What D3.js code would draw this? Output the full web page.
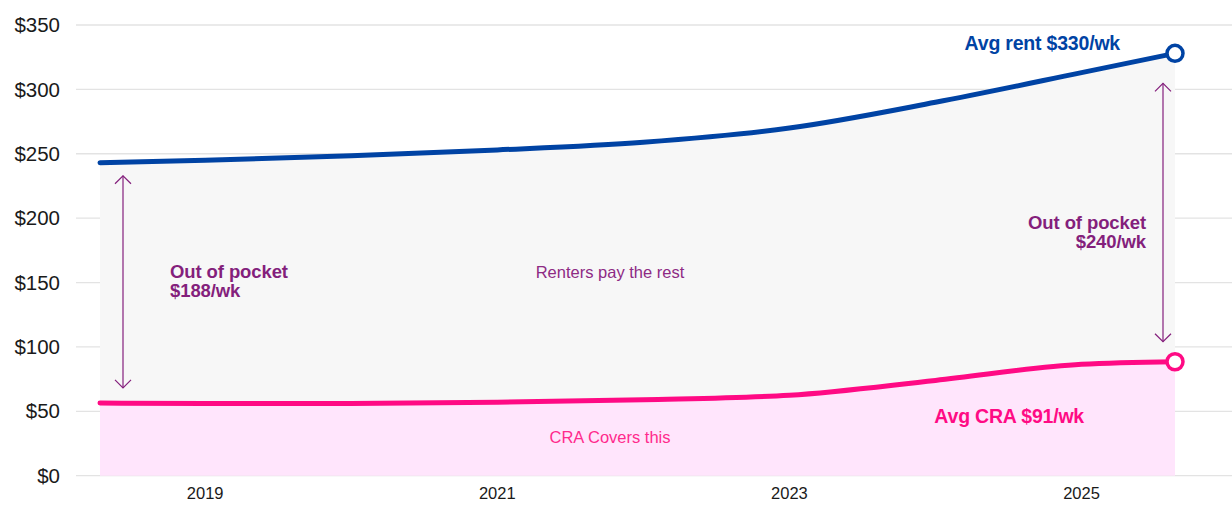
<!DOCTYPE html>
<html>
<head>
<meta charset="utf-8">
<script src="https://cdn.jsdelivr.net/npm/d3@7"></script>
<style>
  html, body { margin: 0; padding: 0; background: #fff; }
  svg { display: block; font-family: "Liberation Sans", Arial, Helvetica, sans-serif; }
</style>
</head>
<body>
<svg id="chart" width="1232" height="505"></svg>
<script>
// ---- Data ----
const years   = [2018.28, 2019, 2020, 2021, 2022, 2023, 2024, 2025, 2025.64];
const avgRent = [243, 245, 248.5, 253, 259, 270, 290, 313, 328];
const avgCRA  = [56.5, 56, 56, 57, 59, 62.5, 74, 86.5, 88.5];
const xTicks  = [2019, 2021, 2023, 2025];
const yTicks  = [0, 50, 100, 150, 200, 250, 300, 350];
const labels = {
  rent: "Avg rent $330/wk",
  cra: "Avg CRA $91/wk",
  oopStart: ["Out of pocket", "$188/wk"],
  oopEnd: ["Out of pocket", "$240/wk"],
  renters: "Renters pay the rest",
  covers: "CRA Covers this"
};

const data = years.map((y, i) => ({ year: y, rent: avgRent[i], cra: avgCRA[i] }));

const svg = d3.select("#chart");
const x = d3.scaleLinear().domain([years[0], years[years.length - 1]]).range([100, 1175]);
const y = d3.scaleLinear().domain([0, 350]).range([475.7, 25]);

const blue = "#0043a4", pink = "#ff0a84", purple = "#841f7c";

// gridlines + y labels
const gy = svg.append("g");
gy.selectAll("line").data(yTicks).join("line")
  .attr("x1", 76).attr("x2", 1232)
  .attr("y1", d => y(d)).attr("y2", d => y(d))
  .attr("stroke", "#e3e3e3").attr("stroke-width", 1.3);
gy.selectAll("text").data(yTicks).join("text")
  .attr("x", 60).attr("y", d => y(d)).attr("dy", "0.35em")
  .attr("text-anchor", "end").attr("font-size", 20.5).attr("fill", "#1a1a1a")
  .text(d => "$" + d);

const curve = d3.curveMonotoneX;

// grey area between lines
svg.append("path").datum(data)
  .attr("fill", "#f7f7f7")
  .attr("d", d3.area().curve(curve).x(d => x(d.year)).y0(d => y(d.cra)).y1(d => y(d.rent)));
// pink area below CRA
svg.append("path").datum(data)
  .attr("fill", "#ffe5fc")
  .attr("d", d3.area().curve(curve).x(d => x(d.year)).y0(y(0)).y1(d => y(d.cra)));

// x axis labels
svg.append("g").selectAll("text").data(xTicks).join("text")
  .attr("x", d => x(d)).attr("y", 499)
  .attr("text-anchor", "middle").attr("font-size", 16.5).attr("fill", "#1a1a1a")
  .text(d => d);

// lines
svg.append("path").datum(data)
  .attr("fill", "none").attr("stroke", blue).attr("stroke-width", 5).attr("stroke-linecap", "round")
  .attr("d", d3.line().curve(curve).x(d => x(d.year)).y(d => y(d.rent)));
svg.append("path").datum(data)
  .attr("fill", "none").attr("stroke", pink).attr("stroke-width", 5).attr("stroke-linecap", "round")
  .attr("d", d3.line().curve(curve).x(d => x(d.year)).y(d => y(d.cra)));

const last = data[data.length - 1], first = data[0];
svg.append("circle").attr("cx", x(last.year)).attr("cy", y(last.rent)).attr("r", 8)
  .attr("fill", "#fff").attr("stroke", blue).attr("stroke-width", 3.5);
svg.append("circle").attr("cx", x(last.year)).attr("cy", y(last.cra)).attr("r", 8)
  .attr("fill", "#fff").attr("stroke", pink).attr("stroke-width", 3.5);

// double arrows
function arrow(ax, yTop, yBot) {
  const g = svg.append("g").attr("stroke", purple).attr("stroke-width", 1.2).attr("fill", "none");
  g.append("line").attr("x1", ax).attr("x2", ax).attr("y1", yTop).attr("y2", yBot);
  g.append("path").attr("d", `M${ax - 8},${yTop + 8} L${ax},${yTop} L${ax + 8},${yTop + 8}`);
  g.append("path").attr("d", `M${ax - 8},${yBot - 8} L${ax},${yBot} L${ax + 8},${yBot - 8}`);
}
arrow(x(first.year) + 23, y(first.rent) + 13, y(first.cra) - 15);
arrow(x(last.year) - 12, y(last.rent) + 30, y(last.cra) - 20);

// annotations (two stacked lines each)
function multi(tx, ty, lines, anchor, color) {
  lines.forEach((l, i) => svg.append("text")
    .attr("x", tx).attr("y", ty + i * 19).attr("text-anchor", anchor)
    .attr("font-size", 18.5).attr("font-weight", "bold").attr("fill", color)
    .attr("letter-spacing", -0.1).text(l));
}
multi(170, 278, labels.oopStart, "start", purple);
multi(1146, 229, labels.oopEnd, "end", purple);

svg.append("text").attr("x", 1120).attr("y", 50).attr("text-anchor", "end")
  .attr("font-size", 19.5).attr("font-weight", "bold").attr("fill", blue).attr("letter-spacing", -0.2)
  .text(labels.rent);
svg.append("text").attr("x", 1084).attr("y", 423).attr("text-anchor", "end")
  .attr("font-size", 19.5).attr("font-weight", "bold").attr("fill", pink).attr("letter-spacing", -0.2)
  .text(labels.cra);

svg.append("text").attr("x", 610).attr("y", 278).attr("text-anchor", "middle")
  .attr("font-size", 16.5).attr("fill", "#8e2a84").text(labels.renters);
svg.append("text").attr("x", 610).attr("y", 443).attr("text-anchor", "middle")
  .attr("font-size", 16.5).attr("fill", "#ff2a8c").text(labels.covers);
</script>
</body>
</html>
